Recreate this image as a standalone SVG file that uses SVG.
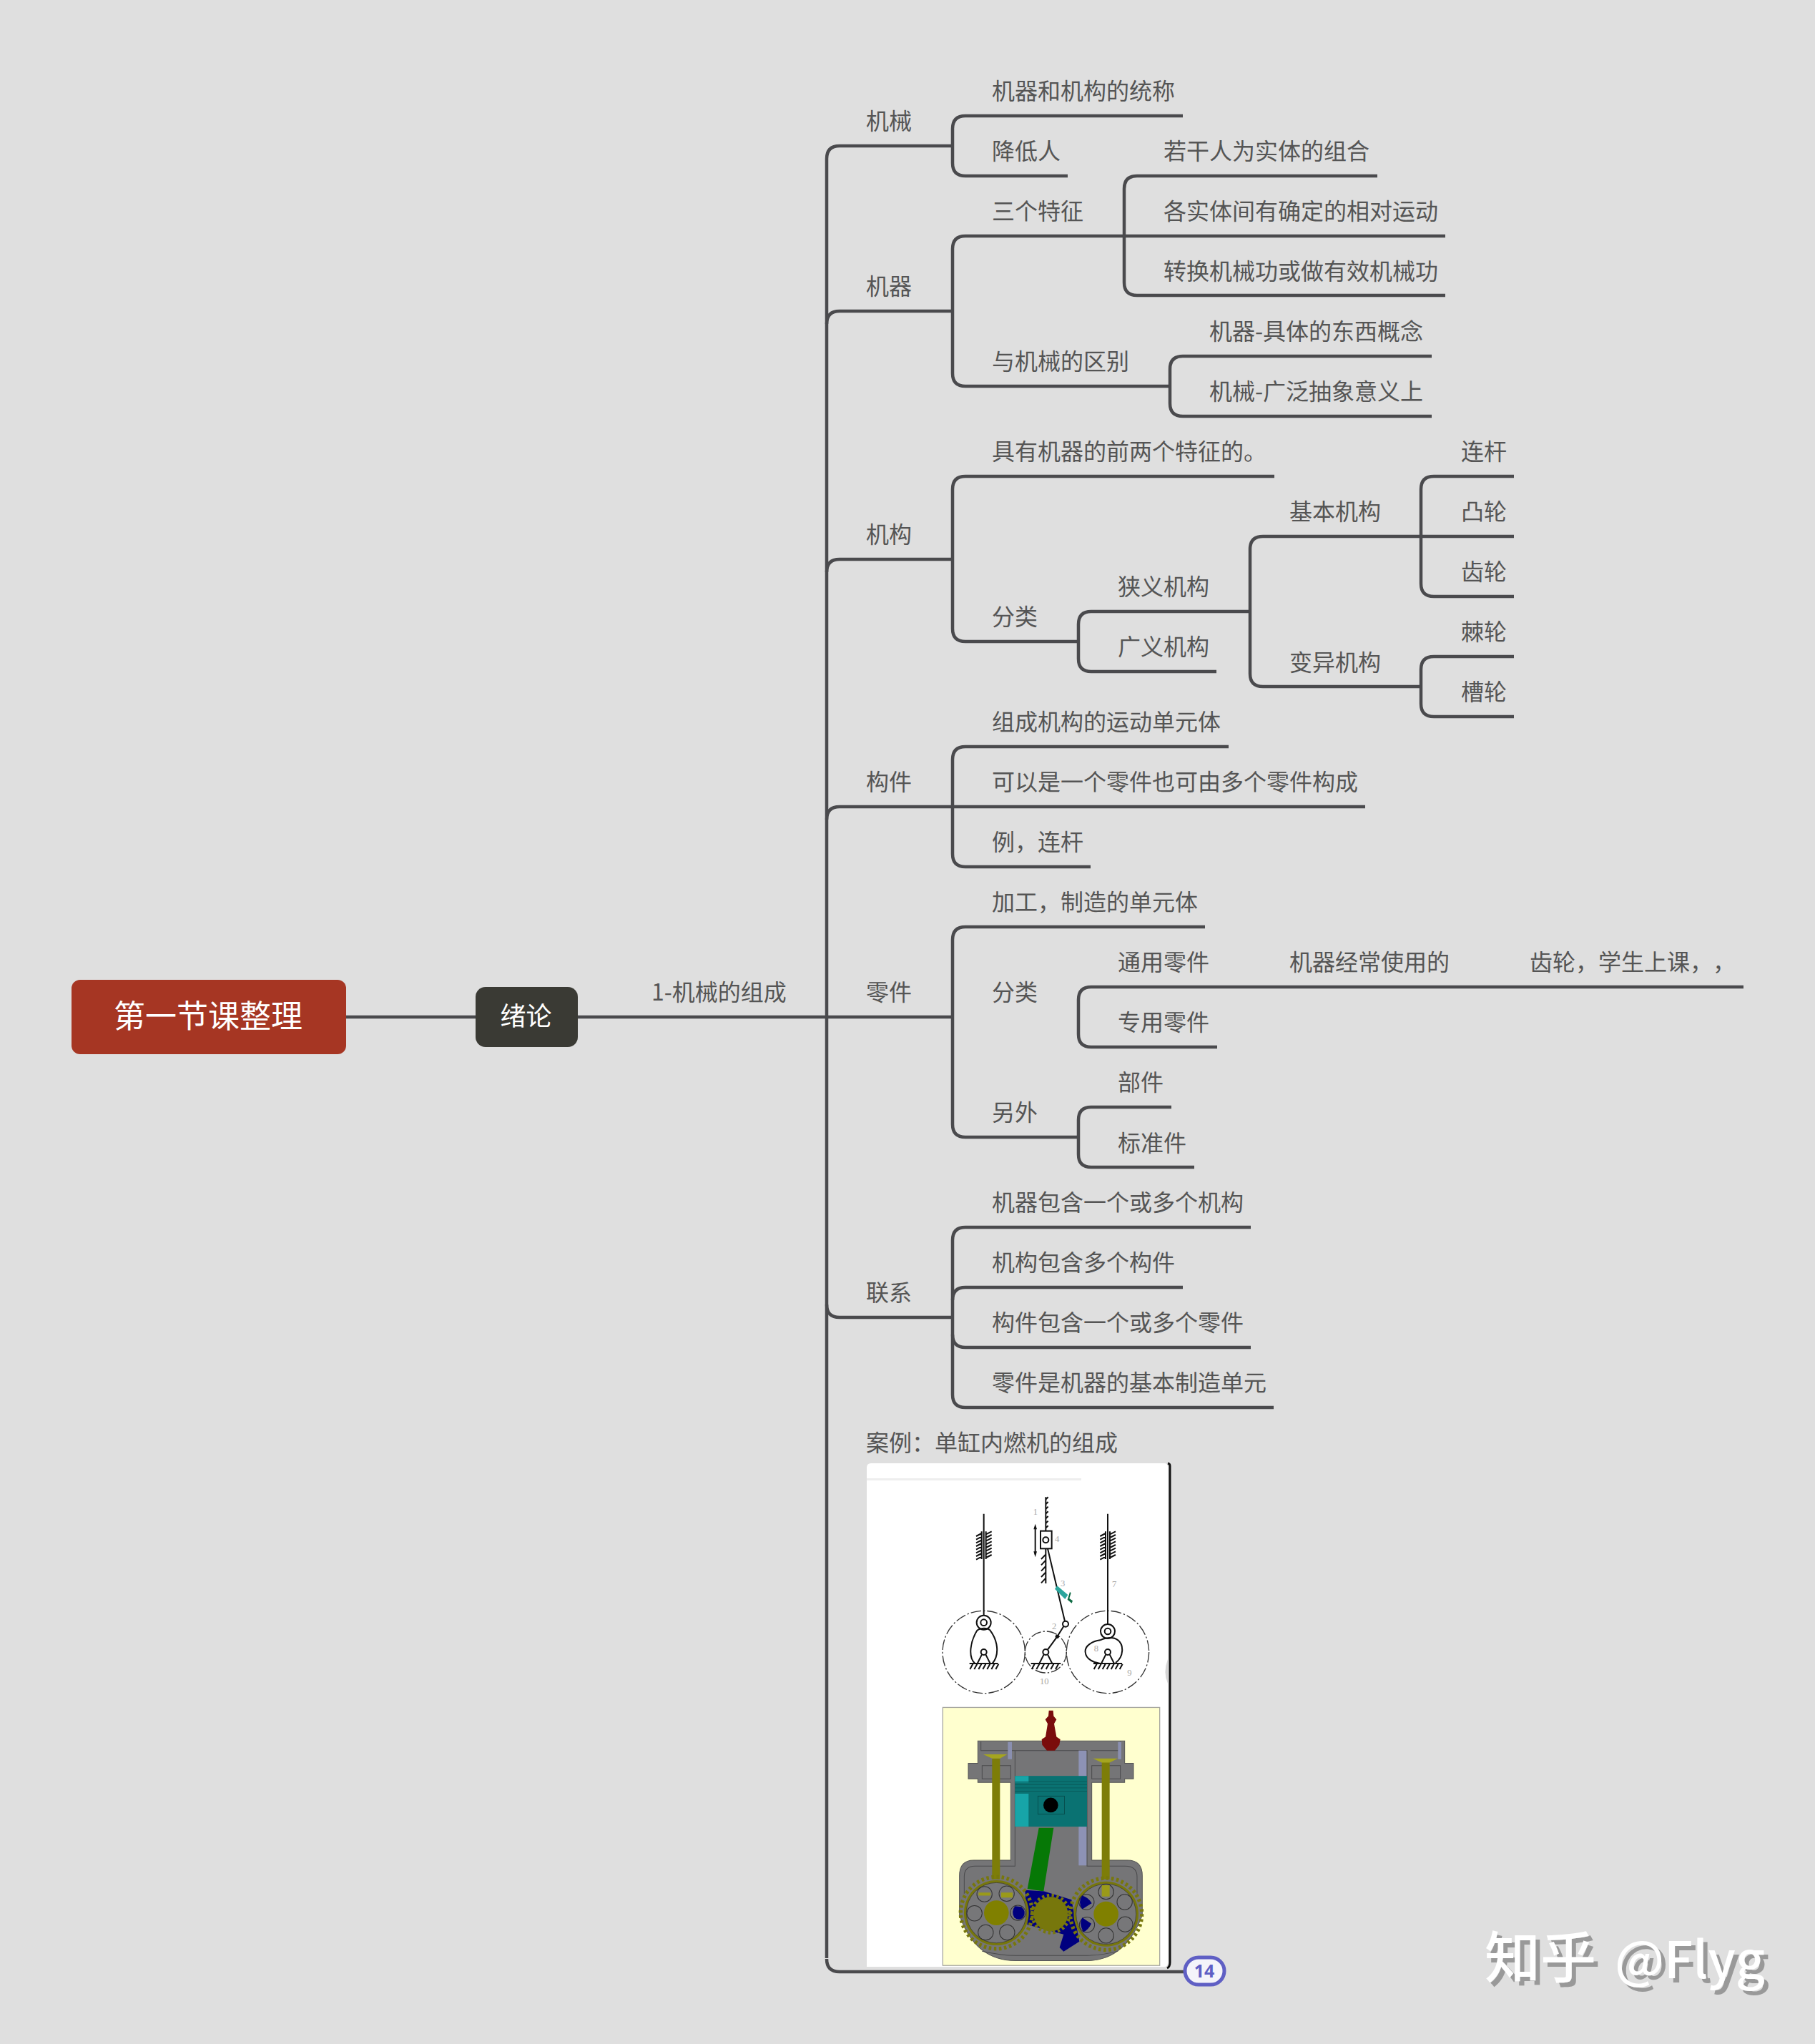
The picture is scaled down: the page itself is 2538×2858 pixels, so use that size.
<svg xmlns="http://www.w3.org/2000/svg" width="2538" height="2858" viewBox="0 0 2538 2858">
<style>
text{font-family:"Noto Sans CJK SC","Liberation Sans",sans-serif;text-spacing-trim:space-all}
.t{font-size:32px;fill:#555;font-weight:400}
.c{fill:none;stroke:#4a4a4d;stroke-width:4.5}
.m{fill:none;stroke:#111;stroke-width:6}
.d{fill:none;stroke:#333;stroke-width:4;stroke-dasharray:44 9 7 9}
.n{font-family:"Liberation Serif",serif;font-size:38px;fill:#a8a8a8}
.h{fill:none;stroke:#333;stroke-width:3}
.w{fill:#fff;font-weight:500}
</style>
<defs>
<filter id="ds" x="-5%" y="-10%" width="115%" height="130%"><feFlood flood-color="#999"/><feComposite in2="SourceAlpha" operator="in"/><feOffset dx="6" dy="6" result="s"/><feMerge><feMergeNode in="s"/><feMergeNode in="SourceGraphic"/></feMerge></filter>
<g id="guide" class="m"><path d="M-9 -58V58M9 -58V58M-9 -50L-32 -38M-9 -36L-32 -24M-9 -22L-32 -10M-9 -8L-32 4M-9 6L-32 18M-9 20L-32 32M-9 34L-32 46M-9 48L-32 60M9 -46L33 -58M9 -32L33 -44M9 -18L33 -30M9 -4L33 -16M9 10L33 -2M9 24L33 12M9 38L33 26M9 52L33 40"/></g>
<g id="ground" class="m"><path d="M-60 0H60M-46 2L-58 24M-28 2L-40 24M-10 2L-22 24M8 2L-4 24M26 2L14 24M44 2L32 24M62 2L50 24"/></g>
<g id="pivot"><path class="m" d="M-8 10L-27 48M8 10L27 48"/><circle class="m" r="12" fill="#fff"/></g>
<g id="gear"><circle r="150" fill="none" stroke="#77770c" stroke-width="16" stroke-dasharray="10.5 10.9"/><circle r="136" fill="#77770c"/><circle r="126" fill="#777779" stroke="#333" stroke-width="2"/><circle r="52" fill="#808000"/></g>
</defs>
<rect width="2538" height="2858" fill="#dfdfdf"/>
<g id="connectors" class="c">
<path d="M484 1422H665M808 1422H1332M1156 222V2738"/>
<path d="M1156 222Q1156 204 1174 204H1332M1156 453Q1156 435 1174 435H1332M1156 800Q1156 782 1174 782H1332M1156 1146Q1156 1128 1174 1128H1332M1156 1824Q1156 1842 1174 1842H1332M1156 2739Q1156 2757 1174 2757H1656"/>
<path d="M1654 162H1350Q1332 162 1332 180V228Q1332 246 1350 246H1493"/>
<path d="M2021 330H1350Q1332 330 1332 348V522Q1332 540 1350 540H1636"/>
<path d="M1926 246H1590Q1572 246 1572 264V395Q1572 413 1590 413H2021"/>
<path d="M2002 498H1654Q1636 498 1636 516V564Q1636 582 1654 582H2002"/>
<path d="M1782 666H1350Q1332 666 1332 684V879Q1332 897 1350 897H1508"/>
<path d="M1748 855H1526Q1508 855 1508 873V921Q1508 939 1526 939H1701"/>
<path d="M2117 750H1766Q1748 750 1748 768V942Q1748 960 1766 960H1987"/>
<path d="M2117 666H2005Q1987 666 1987 684V816Q1987 834 2005 834H2117"/>
<path d="M2117 918H2005Q1987 918 1987 936V984Q1987 1002 2005 1002H2117"/>
<path d="M1718 1044H1350Q1332 1044 1332 1062V1194Q1332 1212 1350 1212H1525M1332 1128H1909"/>
<path d="M1685 1296H1350Q1332 1296 1332 1314V1572Q1332 1590 1350 1590H1508"/>
<path d="M2438 1380H1526Q1508 1380 1508 1398V1446Q1508 1464 1526 1464H1702"/>
<path d="M1638 1548H1526Q1508 1548 1508 1566V1614Q1508 1632 1526 1632H1670"/>
<path d="M1749 1716H1350Q1332 1716 1332 1734V1950Q1332 1968 1350 1968H1781"/>
<path d="M1654 1800H1350Q1332 1800 1332 1818M1332 1866Q1332 1884 1350 1884H1749"/>
</g>
<g id="root"><rect x="100" y="1370" width="384" height="104" rx="12" fill="#a63623"/><text x="291" y="1437" text-anchor="middle" font-size="44" fill="#fff">第一节课整理</text></g>
<g id="sub"><rect x="665" y="1380" width="143" height="84" rx="14" fill="#3a3a34"/><text x="735.5" y="1434" text-anchor="middle" font-size="36" fill="#fff">绪论</text></g>
<g id="n-zc"><text class="t" x="911" y="1399">1-机械的组成</text></g>
<g id="n-jx"><text class="t" x="1211" y="181">机械</text></g>
<g id="n-jq"><text class="t" x="1211" y="412">机器</text></g>
<g id="n-jg"><text class="t" x="1211" y="759">机构</text></g>
<g id="n-gj"><text class="t" x="1211" y="1105">构件</text></g>
<g id="n-lj"><text class="t" x="1211" y="1399">零件</text></g>
<g id="n-lx"><text class="t" x="1211" y="1819">联系</text></g>
<g id="n-a1"><text class="t" x="1387" y="139">机器和机构的统称</text></g>
<g id="n-a2"><text class="t" x="1387" y="223">降低人</text></g>
<g id="n-b1"><text class="t" x="1387" y="307">三个特征</text></g>
<g id="n-b2"><text class="t" x="1387" y="517">与机械的区别</text></g>
<g id="n-c1"><text class="t" x="1627" y="223">若干人为实体的组合</text></g>
<g id="n-c2"><text class="t" x="1627" y="307">各实体间有确定的相对运动</text></g>
<g id="n-c3"><text class="t" x="1627" y="391">转换机械功或做有效机械功</text></g>
<g id="n-d1"><text class="t" x="1691" y="475">机器-具体的东西概念</text></g>
<g id="n-d2"><text class="t" x="1691" y="559">机械-广泛抽象意义上</text></g>
<g id="n-e1"><text class="t" x="1387" y="643">具有机器的前两个特征的。</text></g>
<g id="n-e2"><text class="t" x="1387" y="874">分类</text></g>
<g id="n-f1"><text class="t" x="1563" y="832">狭义机构</text></g>
<g id="n-f2"><text class="t" x="1563" y="916">广义机构</text></g>
<g id="n-g1"><text class="t" x="1803" y="727">基本机构</text></g>
<g id="n-g2"><text class="t" x="1803" y="938">变异机构</text></g>
<g id="n-h1"><text class="t" x="2043" y="643">连杆</text></g>
<g id="n-h2"><text class="t" x="2043" y="727">凸轮</text></g>
<g id="n-h3"><text class="t" x="2043" y="811">齿轮</text></g>
<g id="n-h4"><text class="t" x="2043" y="895">棘轮</text></g>
<g id="n-h5"><text class="t" x="2043" y="979">槽轮</text></g>
<g id="n-i1"><text class="t" x="1387" y="1021">组成机构的运动单元体</text></g>
<g id="n-i2"><text class="t" x="1387" y="1105">可以是一个零件也可由多个零件构成</text></g>
<g id="n-i3"><text class="t" x="1387" y="1189">例，连杆</text></g>
<g id="n-j1"><text class="t" x="1387" y="1273">加工，制造的单元体</text></g>
<g id="n-j2"><text class="t" x="1387" y="1399">分类</text></g>
<g id="n-j3"><text class="t" x="1387" y="1567">另外</text></g>
<g id="n-k1"><text class="t" x="1563" y="1357">通用零件</text></g>
<g id="n-k2"><text class="t" x="1803" y="1357">机器经常使用的</text></g>
<g id="n-k3"><text class="t" x="2139" y="1357">齿轮，学生上课，，</text></g>
<g id="n-k4"><text class="t" x="1563" y="1441">专用零件</text></g>
<g id="n-k5"><text class="t" x="1563" y="1525">部件</text></g>
<g id="n-k6"><text class="t" x="1563" y="1610">标准件</text></g>
<g id="n-l1"><text class="t" x="1387" y="1693">机器包含一个或多个机构</text></g>
<g id="n-l2"><text class="t" x="1387" y="1777">机构包含多个构件</text></g>
<g id="n-l3"><text class="t" x="1387" y="1861">构件包含一个或多个零件</text></g>
<g id="n-l4"><text class="t" x="1387" y="1945">零件是机器的基本制造单元</text></g>
<g id="n-case"><text class="t" x="1211" y="2029">案例：单缸内燃机的组成</text></g>
<g id="case-image">
<path d="M1633 2046a4 4 0 0 1 3 4V2744q0 6-4 8" fill="none" stroke="#111" stroke-width="3"/>
<path d="M1218 2046H1628Q1633 2046 1633 2051V2745Q1633 2750 1628 2750H1212V2052Q1212 2046 1218 2046Z" fill="#fff"/>
<rect x="1212" y="2067" width="300" height="3" fill="#eee"/>
<path d="M1633 2320Q1626 2338 1633 2354Z" fill="#d5d5d5"/>
<g transform="translate(1150 1960) scale(.33333)">
<circle class="d" cx="677" cy="1050" r="173"/><circle class="d" cx="937" cy="1050" r="87"/><circle class="d" cx="1197" cy="1050" r="173"/>
<path class="m" d="M677 470V895M1197 470V935"/>
<use href="#guide" x="677" y="602"/><use href="#guide" x="1197" y="602"/>
<circle class="m" cx="677" cy="926" r="30"/><circle class="m" cx="677" cy="926" r="13"/>
<path class="m" d="M650 958C620 1005 610 1070 640 1098M713 1098C745 1060 735 1000 703 958C690 948 665 948 650 958"/>
<use href="#pivot" x="677" y="1050"/><use href="#ground" x="677" y="1098"/>
<circle class="m" cx="1197" cy="963" r="30"/><circle class="m" cx="1197" cy="963" r="13"/>
<path class="m" d="M1165 1000C1130 1005 1100 1025 1103 1050C1105 1080 1140 1095 1165 1098M1230 1095C1265 1070 1265 1020 1240 1000C1220 985 1190 990 1165 1000"/>
<use href="#pivot" x="1197" y="1050"/><use href="#ground" x="1197" y="1098"/>
<path class="m" d="M937 400V542M937 410L947 400M937 430L947 420M937 450L947 440M937 470L947 460M937 490L947 480M937 510L947 500M937 530L947 520M937 616V762M937 640L918 660M937 665L918 685M937 690L918 710M937 715L918 735M937 740L918 760"/>
<rect class="m" x="915" y="542" width="47" height="74" fill="#fff"/><circle class="m" cx="937" cy="580" r="12"/>
<path class="m" d="M893 525V640"/><path d="M893 512L886 535H900ZM893 652L886 628H900Z" fill="#111"/>
<path class="m" d="M945 616L1017 920M1012 942L985 985L945 1040"/><circle class="m" cx="1020" cy="932" r="12"/><circle cx="985" cy="985" r="8" fill="#111"/>
<use href="#pivot" x="937" y="1050"/>
<path class="m" d="M875 1098H1000M890 1100L878 1122M910 1100L898 1122M930 1100L918 1122M950 1100L938 1122M970 1100L958 1122M990 1100L978 1122"/>
<path d="M985 772L1030 810L1018 828L975 785Z" fill="#2aa59c"/><path d="M1038 798L1028 830L1046 845L1050 835L1036 825L1043 802Z" fill="#0f6b44"/>
<text class="n" x="884" y="475">1</text><text class="n" x="975" y="588">4</text><text class="n" x="999" y="775">3</text><text class="n" x="963" y="955">2</text><text class="n" x="912" y="1184">10</text><text class="n" x="1215" y="777">7</text><text class="n" x="1139" y="1048">8</text><text class="n" x="1279" y="1148">9</text>
</g>
<g transform="translate(1280 2360) scale(.33333 .33467)">
<rect x="115" y="82" width="910" height="1078" fill="#ffffcf" stroke="#a8a8a0" stroke-width="4"/>
<path d="M262 222H878V315H915V380H878V395H740V720H890Q952 720 952 785V950Q880 1140 720 1140H420Q250 1140 185 950V785Q185 720 245 720H400V395H262V380H222V315H262Z" fill="#757577" stroke="#555" stroke-width="3"/>
<path d="M205 860V790Q205 745 250 745H418V262H720V745H880Q930 745 930 790V860M280 1100Q360 1118 420 1118H720Q780 1118 850 1100M275 225V262H418M735 262H860V225M280 325H400V380H280ZM860 325H740V380H860Z" fill="none" stroke="#4a4a4c" stroke-width="3"/>
<path d="M388 226H405V298H388ZM850 226H864V298H850Z" fill="#8a8fb0"/>
<rect x="685" y="262" width="33" height="480" fill="#8d92b5"/>
<path d="M322 295H355V800H322ZM782 305H815V800H782Z" fill="#7d7d08"/>
<path d="M285 278H385L355 295H322ZM745 295H850L815 312H782Z" fill="#a5a520"/>
<rect x="418" y="368" width="302" height="212" fill="#0a7272"/><path d="M418 368H475V395H418ZM418 442H475V580H418Z" fill="#17a5a8"/>
<path d="M418 392H720M418 404H720M418 418H720M418 432H720" stroke="#0a5050" stroke-width="2"/>
<rect x="514" y="452" width="112" height="76" fill="none" stroke="#053f3f" stroke-width="2"/><circle cx="568" cy="490" r="31" fill="#000"/>
<path d="M518 585H580L538 850L470 840Z" fill="#067806"/>
<path d="M460 845L540 850L655 885L688 1060L622 1102L605 1085L622 1030L470 990Z" fill="#00007f"/>
<use href="#gear" x="340" y="940"/><use href="#gear" x="800" y="945"/>
<circle cx="568" cy="945" r="78" fill="none" stroke="#77770c" stroke-width="14" stroke-dasharray="10 10.5"/><circle cx="568" cy="945" r="72" fill="#77770c"/>
<g class="h"><circle cx="290" cy="862" r="32"/><circle cx="383" cy="860" r="32"/><circle cx="248" cy="942" r="32"/><circle cx="295" cy="1022" r="32"/><circle cx="385" cy="1022" r="32"/><circle cx="430" cy="940" r="32"/><circle cx="800" cy="852" r="32"/><circle cx="878" cy="895" r="32"/><circle cx="880" cy="988" r="32"/><circle cx="800" cy="1035" r="32"/><circle cx="720" cy="990" r="32"/><circle cx="718" cy="895" r="32"/></g>
<path d="M418 912Q400 935 415 960Q435 975 452 960Q468 935 445 915Z" fill="#00007f"/>
<path d="M700 868Q680 895 700 925L740 900Q725 875 700 868ZM700 960Q685 985 705 1020Q725 1012 738 985Z" fill="#00007f"/>
<path d="M265 855H315V868H265ZM360 855H408V876H360ZM782 825H815V872H782Z" fill="#9a9a1a"/>
<path d="M560 95H578L580 118L592 132L582 150L592 205L608 215L604 238L585 262H552L532 238L530 215L546 205L555 150L545 132L558 118Z" fill="#7a0c0c"/>
</g>
</g>
<g id="badge"><rect x="1657" y="2737" width="55" height="38" rx="19" fill="#f4f4fa" stroke="#5f5fc4" stroke-width="5"/><text x="1684" y="2765" text-anchor="middle" font-size="25" font-weight="700" fill="#5f5fc4" style="font-family:'Noto Sans','Liberation Sans',sans-serif">14</text></g>
<g id="watermark" filter="url(#ds)"><text class="w" x="2076" y="2766" font-size="78">知乎</text><text class="w" x="2258" y="2766" font-size="71">@Flyg</text></g>
</svg>
